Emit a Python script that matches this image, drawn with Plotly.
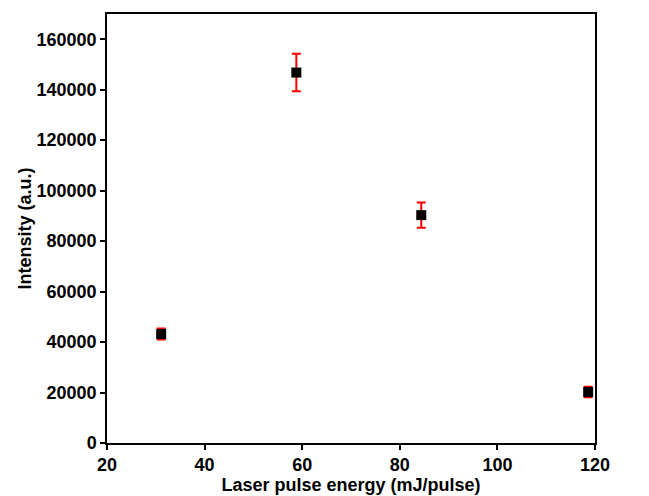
import plotly.graph_objects as go

energy = [31.1, 58.8, 84.4, 118.6]
intensity = [43200, 146800, 90300, 20200]
error = [2200, 7400, 5000, 2100]

fig = go.Figure()
fig.add_trace(go.Scatter(
    x=energy, y=intensity, mode="markers",
    marker=dict(symbol="square", size=10, color="black"),
    error_y=dict(type="data", array=error, visible=True, color="red", thickness=2, width=4.5),
    showlegend=False,
))

fam = "Liberation Sans, Arial"
fig.update_layout(
    width=649, height=496,
    margin=dict(l=107, r=54, t=14, b=53, autoexpand=False),
    paper_bgcolor="white", plot_bgcolor="white",
    font=dict(family=fam, size=18, color="black"),
    xaxis=dict(
        range=[20, 120], tickvals=[20, 40, 60, 80, 100, 120], automargin=False,
        showgrid=False, zeroline=False, showline=True, linecolor="black", linewidth=1.5,
        mirror=True, ticks="outside", ticklen=5, tickcolor="black", tickwidth=1.5,
        tickfont=dict(family=fam, size=18, color="black", weight="bold"),
        title=dict(text="<b>Laser pulse energy (mJ/pulse)</b>", standoff=0,
                   font=dict(family=fam, size=18, color="black")),
    ),
    yaxis=dict(
        range=[0, 170000], tickvals=[0, 20000, 40000, 60000, 80000, 100000, 120000, 140000, 160000],
        tickformat="d", automargin=False,
        showgrid=False, zeroline=False, showline=True, linecolor="black", linewidth=1.5,
        mirror=True, ticks="outside", ticklen=5, tickcolor="black", tickwidth=1.5,
        tickfont=dict(family=fam, size=18, color="black", weight="bold"),
        title=dict(text="<b>Intensity (a.u.)</b>", standoff=0,
                   font=dict(family=fam, size=18, color="black")),
    ),
)
fig.write_html("out.html")
